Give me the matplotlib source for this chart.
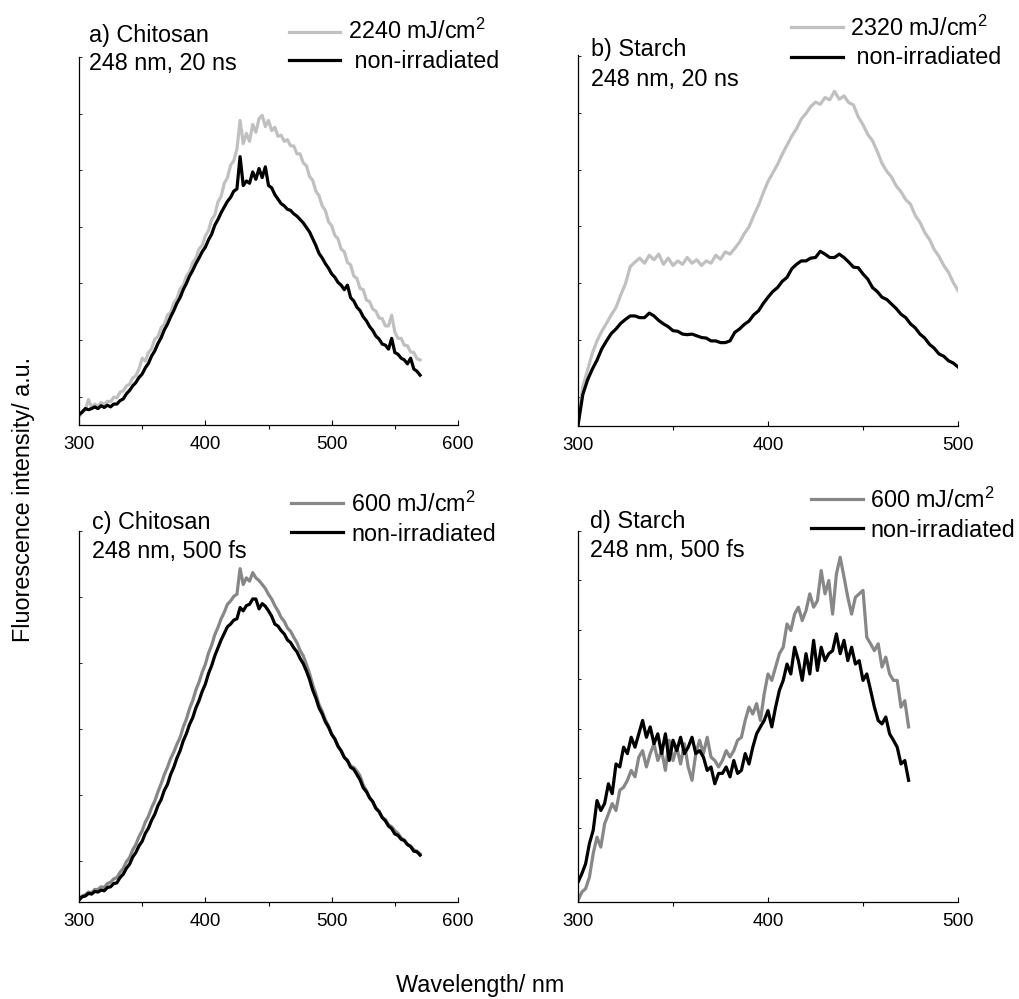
import matplotlib
matplotlib.use('Agg')
import numpy as np
import matplotlib.pyplot as plt
from matplotlib.lines import Line2D
from matplotlib.ticker import MultipleLocator, FixedLocator, NullFormatter

plt.rcParams['font.family'] = ['Liberation Sans', 'DejaVu Sans']
plt.rcParams['mathtext.fontset'] = 'custom'
plt.rcParams['mathtext.rm'] = 'Liberation Sans'
plt.rcParams['mathtext.it'] = 'Liberation Sans:italic'

# ---------------- data (arbitrary intensity units) ----------------
# a) Chitosan, 248 nm, 20 ns  (300..570 nm, 2.5 nm steps)
wl_a = np.arange(300, 570.01, 2.5)
a_irr = [0.15, 0.22, 0.27, 0.45,
         0.31, 0.37, 0.33, 0.40,
         0.36, 0.42, 0.41, 0.49,
         0.48, 0.58, 0.60, 0.69,
         0.72, 0.83, 0.87, 0.99,
         1.18, 1.13, 1.28, 1.35,
         1.52, 1.56, 1.72, 1.78,
         1.94, 1.99, 2.15, 2.23,
         2.40, 2.47, 2.63, 2.71,
         2.87, 2.95, 3.11, 3.17,
         3.34, 3.43, 3.63, 3.71,
         3.94, 4.04, 4.27, 4.37,
         4.59, 4.67, 4.87, 5.38,
         4.97, 5.15, 5.01, 5.31,
         5.17, 5.41, 5.47, 5.27,
         5.38, 5.20, 5.26, 5.10,
         5.12, 5.01, 5.04, 4.93,
         4.93, 4.79, 4.79, 4.63,
         4.58, 4.39, 4.32, 4.13,
         4.05, 3.87, 3.79, 3.59,
         3.52, 3.35, 3.29, 3.11,
         3.06, 2.87, 2.83, 2.63,
         2.59, 2.41, 2.39, 2.21,
         2.18, 2.05, 2.01, 1.89,
         1.88, 1.75, 1.75, 1.94,
         1.64, 1.53, 1.53, 1.41,
         1.40, 1.29, 1.28, 1.17,
         1.15]
a_non = [0.18, 0.23, 0.29, 0.27,
         0.29, 0.32, 0.29, 0.34,
         0.31, 0.35, 0.32, 0.37,
         0.37, 0.43, 0.46, 0.55,
         0.61, 0.69, 0.75, 0.84,
         0.90, 1.01, 1.09, 1.22,
         1.31, 1.44, 1.54, 1.68,
         1.78, 1.91, 2.02, 2.15,
         2.25, 2.39, 2.50, 2.63,
         2.73, 2.85, 2.95, 3.06,
         3.14, 3.27, 3.37, 3.53,
         3.63, 3.75, 3.85, 3.95,
         4.02, 4.13, 4.17, 4.74,
         4.23, 4.31, 4.27, 4.47,
         4.34, 4.53, 4.37, 4.56,
         4.23, 4.19, 4.07, 3.99,
         3.91, 3.87, 3.81, 3.79,
         3.73, 3.69, 3.63, 3.57,
         3.49, 3.41, 3.29, 3.17,
         3.03, 2.95, 2.85, 2.77,
         2.67, 2.61, 2.52, 2.47,
         2.39, 2.47, 2.25, 2.19,
         2.08, 2.02, 1.91, 1.84,
         1.74, 1.67, 1.57, 1.52,
         1.43, 1.41, 1.34, 1.53,
         1.28, 1.25, 1.18, 1.15,
         1.08, 1.18, 0.99, 0.95,
         0.88]

# b) Starch, 248 nm, 20 ns  (300..500 nm, 2.5 nm steps)
wl_b = np.arange(300, 500.01, 2.5)
b_irr = [0.04, 0.69, 0.98, 1.28,
         1.50, 1.67, 1.81, 1.96,
         2.09, 2.31, 2.51, 2.81,
         2.89, 2.96, 2.87, 3.01,
         2.93, 3.03, 2.85, 2.96,
         2.83, 2.91, 2.85, 2.97,
         2.87, 2.93, 2.83, 2.91,
         2.87, 3.01, 2.94, 3.07,
         3.03, 3.13, 3.24, 3.39,
         3.51, 3.71, 3.89, 4.11,
         4.31, 4.46, 4.61, 4.79,
         4.95, 5.11, 5.24, 5.41,
         5.51, 5.63, 5.71, 5.67,
         5.79, 5.75, 5.90, 5.76,
         5.82, 5.70, 5.66, 5.45,
         5.31, 5.14, 5.03, 4.84,
         4.63, 4.49, 4.39, 4.23,
         4.13, 3.99, 3.91, 3.71,
         3.59, 3.41, 3.29, 3.11,
         2.99, 2.83, 2.71, 2.53,
         2.39]
b_non = [0.01, 0.55, 0.81, 1.00,
         1.16, 1.36, 1.50, 1.63,
         1.71, 1.81, 1.88, 1.94,
         1.94, 1.91, 1.91, 1.99,
         1.94, 1.86, 1.80, 1.75,
         1.68, 1.67, 1.62, 1.61,
         1.62, 1.59, 1.56, 1.55,
         1.50, 1.50, 1.47, 1.47,
         1.50, 1.65, 1.71, 1.79,
         1.85, 1.96, 2.03, 2.16,
         2.27, 2.37, 2.44, 2.55,
         2.62, 2.77, 2.85, 2.91,
         2.91, 2.96, 2.97, 3.08,
         3.03, 2.97, 2.97, 3.03,
         2.97, 2.89, 2.80, 2.79,
         2.68, 2.59, 2.44, 2.37,
         2.27, 2.23, 2.15, 2.07,
         1.97, 1.91, 1.80, 1.73,
         1.62, 1.55, 1.44, 1.37,
         1.27, 1.23, 1.15, 1.11,
         1.04]

# c) Chitosan, 248 nm, 500 fs  (300..570 nm, 2.5 nm steps)
wl_c = np.arange(300, 570.01, 2.5)
c_irr = [0.03, 0.09, 0.11, 0.15,
         0.14, 0.19, 0.19, 0.23,
         0.22, 0.28, 0.30, 0.35,
         0.37, 0.45, 0.51, 0.61,
         0.67, 0.79, 0.87, 0.99,
         1.08, 1.21, 1.30, 1.43,
         1.53, 1.67, 1.79, 1.93,
         2.04, 2.17, 2.27, 2.39,
         2.49, 2.65, 2.77, 2.93,
         3.05, 3.21, 3.33, 3.48,
         3.60, 3.77, 3.89, 4.05,
         4.16, 4.29, 4.39, 4.51,
         4.56, 4.63, 4.66, 5.05,
         4.81, 4.91, 4.86, 4.99,
         4.91, 4.87, 4.81, 4.75,
         4.66, 4.59, 4.49, 4.41,
         4.31, 4.25, 4.15, 4.10,
         4.01, 3.93, 3.81, 3.73,
         3.60, 3.46, 3.29, 3.15,
         2.99, 2.89, 2.76, 2.67,
         2.54, 2.47, 2.36, 2.29,
         2.19, 2.15, 2.06, 2.04,
         1.98, 1.91, 1.77, 1.69,
         1.58, 1.52, 1.42, 1.37,
         1.28, 1.25, 1.17, 1.14,
         1.08, 1.04, 0.97, 0.94,
         0.87, 0.85, 0.79, 0.77,
         0.73]
c_non = [0.03, 0.08, 0.09, 0.13,
         0.12, 0.16, 0.15, 0.18,
         0.17, 0.22, 0.23, 0.28,
         0.29, 0.37, 0.42, 0.51,
         0.57, 0.68, 0.75, 0.85,
         0.92, 1.04, 1.12, 1.24,
         1.33, 1.46, 1.55, 1.69,
         1.78, 1.93, 2.04, 2.18,
         2.29, 2.44, 2.55, 2.69,
         2.79, 2.94, 3.05, 3.19,
         3.30, 3.46, 3.58, 3.73,
         3.85, 3.97, 4.07, 4.17,
         4.21, 4.27, 4.29, 4.46,
         4.41, 4.49, 4.51, 4.59,
         4.59, 4.44, 4.52, 4.48,
         4.41, 4.33, 4.21, 4.18,
         4.11, 4.06, 3.97, 3.93,
         3.85, 3.79, 3.69, 3.61,
         3.50, 3.37, 3.21, 3.09,
         2.94, 2.85, 2.73, 2.65,
         2.54, 2.47, 2.36, 2.29,
         2.19, 2.14, 2.04, 2.01,
         1.93, 1.85, 1.73, 1.67,
         1.58, 1.52, 1.42, 1.37,
         1.28, 1.23, 1.15, 1.11,
         1.03, 1.01, 0.95, 0.93,
         0.87, 0.84, 0.77, 0.76,
         0.71]

# d) Starch, 248 nm, 500 fs  (300..474 nm, 2 nm steps)
wl_d = np.arange(300, 474.01, 2)
d_irr = [0.03, 0.20, 0.27, 0.50, 0.98, 1.31, 1.11, 1.58, 1.78, 1.99, 1.85, 2.26, 2.32, 2.46, 2.66, 2.53,
         2.93, 3.06, 2.73, 3.00, 3.20, 2.86, 3.06, 2.66, 3.27, 2.86, 3.13, 2.79, 3.20, 2.73, 2.46, 3.00,
         3.27, 3.00, 3.33, 2.93, 2.86, 2.73, 2.86, 3.06, 2.93, 3.06, 3.27, 3.33, 3.67, 3.94, 3.80, 4.01,
         3.67, 4.21, 4.61, 4.48, 4.75, 5.02, 5.15, 5.62, 5.49, 5.82, 5.96, 5.69, 5.89, 6.23, 5.96, 6.09,
         6.70, 6.23, 6.50, 5.82, 6.63, 6.97, 6.57, 6.16, 5.82, 6.16, 6.23, 6.30, 5.35, 5.22, 5.08, 5.22,
         4.75, 4.95, 4.61, 4.48, 4.48, 3.94, 4.07, 3.54]
d_non = [0.40, 0.57, 0.77, 1.18, 1.45, 2.05, 1.85, 1.99, 2.39, 2.19, 2.79, 2.73, 3.13, 3.00, 3.33, 3.13,
         3.40, 3.67, 3.33, 3.54, 3.20, 3.40, 3.00, 3.40, 2.86, 3.27, 3.06, 3.33, 3.00, 3.13, 3.33, 3.00,
         3.06, 2.93, 2.66, 2.73, 2.39, 2.60, 2.60, 2.73, 2.53, 2.86, 2.60, 2.66, 3.00, 2.79, 3.13, 3.40,
         3.54, 3.67, 3.87, 3.54, 3.94, 4.28, 4.48, 4.81, 4.61, 5.15, 4.88, 4.48, 5.02, 4.61, 5.29, 4.68,
         5.15, 4.88, 5.02, 5.08, 5.42, 5.02, 5.29, 4.88, 5.15, 4.81, 4.88, 4.48, 4.61, 4.28, 3.94, 3.67,
         3.60, 3.74, 3.40, 3.27, 3.13, 2.79, 2.86, 2.46]

titles = ["a) Chitosan\n248 nm, 20 ns", "b) Starch\n248 nm, 20 ns",
          "c) Chitosan\n248 nm, 500 fs", "d) Starch\n248 nm, 500 fs"]
irr_labels = ["2240 mJ/cm$^2$", "2320 mJ/cm$^2$", "600 mJ/cm$^2$", "600 mJ/cm$^2$"]
non_labels = [" non-irradiated", " non-irradiated", "non-irradiated", "non-irradiated"]
xlabel = "Wavelength/ nm"
ylabel = "Fluorescence intensity/ a.u."

# ---------------- layout ----------------
W, H = 1019, 999
fig = plt.figure(figsize=(W / 100, H / 100), dpi=100)
FS = 16.8


def fx(px):
    return px / W


def fy(py):
    return 1 - py / H


def add_ax(l, t, r, b):
    return fig.add_axes([fx(l), fy(b), (r - l) / W, (b - t) / H])


light = '#c0c0c0'
mid = '#878787'

panels = [
    dict(box=(79, 57, 458, 425), wl=wl_a, irr=a_irr, non=a_non, xmax=600, ylim=6.5, yt0=0.5, col=light,
         title=(89, 42, 70), leg=(289, 340, 32, 60, 348, 39, 68)),
    dict(box=(578, 55, 958, 426), wl=wl_b, irr=b_irr, non=b_non, xmax=500, ylim=6.54, yt0=0.52, col=light,
         title=(591, 56, 86), leg=(791, 843, 27, 57, 850, 36, 64)),
    dict(box=(79, 531, 458, 902), wl=wl_c, irr=c_irr, non=c_non, xmax=600, ylim=5.62, yt0=0.62, col=mid,
         title=(92, 529, 558), leg=(291, 343, 503, 532, 351, 512, 541)),
    dict(box=(578, 531, 958, 902), wl=wl_d, irr=d_irr, non=d_non, xmax=500, ylim=7.5, yt0=1.5, col=mid,
         title=(590, 528, 557), leg=(811, 863, 499, 528, 870, 508, 537)),
]

for i, p in enumerate(panels):
    ax = add_ax(*p['box'])
    ax.plot(p['wl'], p['irr'], color=p['col'], lw=2.3)
    ax.plot(p['wl'], p['non'], color='black', lw=2.3)
    ax.set_xlim(300, p['xmax'])
    ax.set_ylim(0, p['ylim'])
    ax.xaxis.set_major_locator(MultipleLocator(100))
    ax.xaxis.set_minor_locator(MultipleLocator(50))
    yt = []
    v = p['yt0']
    while v <= p['ylim'] + 1e-6:
        yt.append(v)
        v += 1
    ax.yaxis.set_major_locator(FixedLocator(yt))
    ax.yaxis.set_major_formatter(NullFormatter())
    for s in ('top', 'right'):
        ax.spines[s].set_visible(False)
    for s in ('left', 'bottom'):
        ax.spines[s].set_linewidth(0.9)
    ax.tick_params(axis='x', which='major', direction='in', length=3.5, width=0.8,
                   labelsize=13.5, pad=8)
    ax.tick_params(axis='x', which='minor', direction='out', length=3, width=0.8)
    ax.tick_params(axis='y', which='major', direction='in', length=2, width=0.6)

    tx, tb1, tb2 = p['title']
    l1, l2 = titles[i].split('\n')
    fig.text(fx(tx), fy(tb1), l1, fontsize=FS, va='baseline', ha='left')
    fig.text(fx(tx), fy(tb2), l2, fontsize=FS, va='baseline', ha='left')

    x0, x1, y1, y2, txx, b1, b2 = p['leg']
    fig.add_artist(Line2D([fx(x0), fx(x1)], [fy(y1), fy(y1)], color=p['col'], lw=2.3,
                          transform=fig.transFigure))
    fig.add_artist(Line2D([fx(x0), fx(x1)], [fy(y2), fy(y2)], color='black', lw=2.3,
                          transform=fig.transFigure))
    fig.text(fx(txx), fy(b1), irr_labels[i], fontsize=FS, va='baseline', ha='left')
    fig.text(fx(txx), fy(b2), non_labels[i], fontsize=FS, va='baseline', ha='left')

fig.text(fx(480), fy(992), xlabel, fontsize=FS, ha='center', va='baseline')
fig.text(fx(24), fy(500), ylabel, fontsize=FS, ha='center', va='center', rotation=90)

fig.savefig('out.png', dpi=100)
